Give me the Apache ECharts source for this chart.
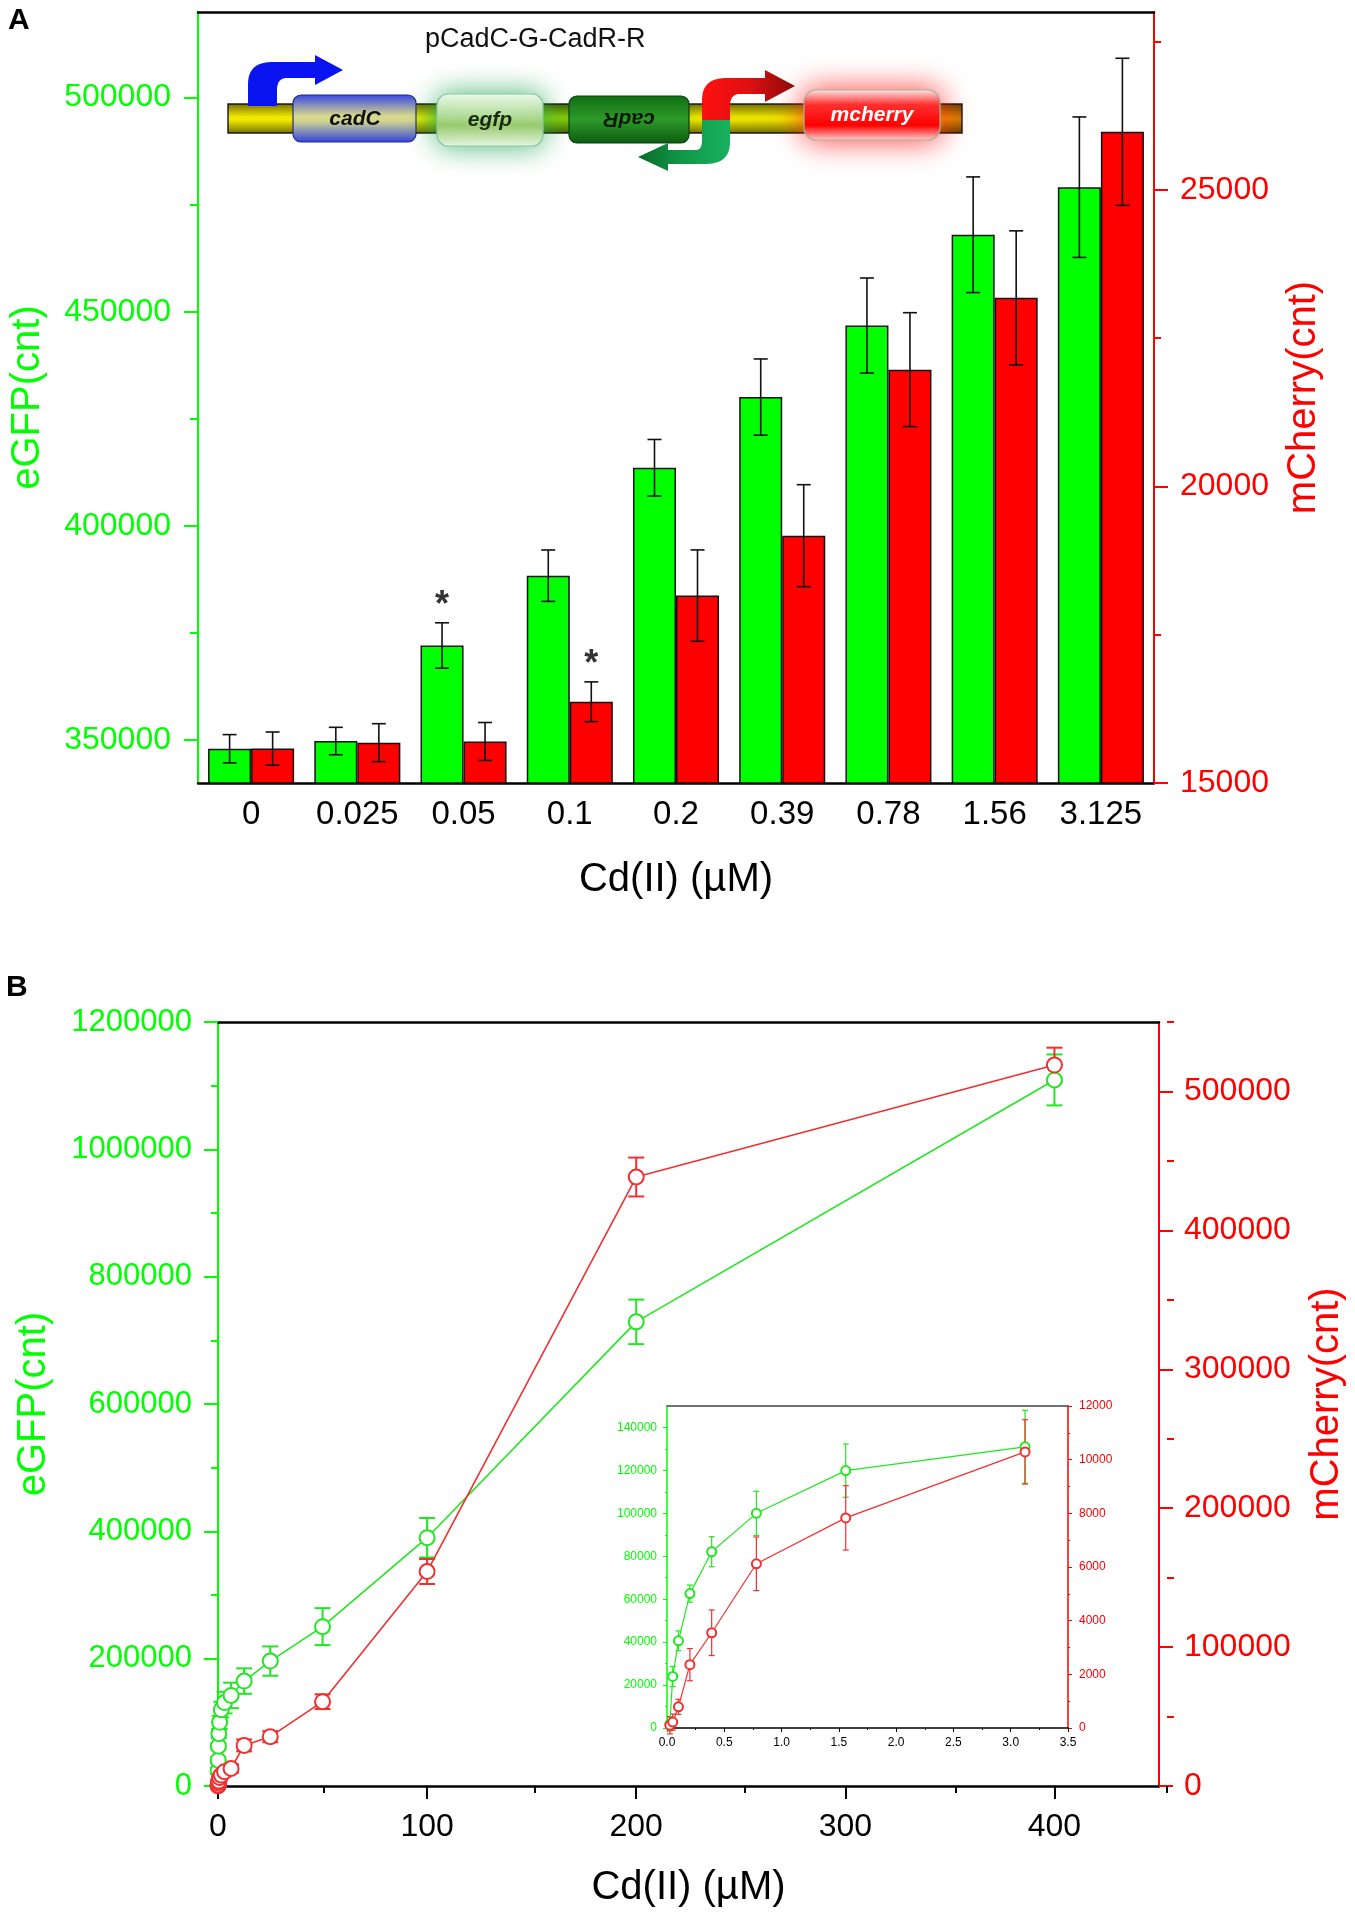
<!DOCTYPE html>
<html><head><meta charset="utf-8">
<script src="https://cdn.jsdelivr.net/npm/echarts@6/dist/echarts.min.js"></script>
<style>html,body{margin:0;padding:0;background:#fff}#c{width:1355px;height:1914px}</style>
</head><body><div id="c"></div>
<script>
// ---------- Panel A data ----------
const catsA = ['0', '0.025', '0.05', '0.1', '0.2', '0.39', '0.78', '1.56', '3.125'];
const egfpA = [348000, 349800, 372100, 388400, 413600, 430100, 446800, 468000, 479100];
const egfpErrA = [3300, 3200, 5300, 6000, 6600, 8900, 11100, 13500, 16400];
const mchA = [15580, 15680, 15700, 16370, 18160, 19170, 21970, 23180, 25980];
const mchErrA = [280, 320, 320, 335, 770, 860, 960, 1130, 1240];
const starEgfpA = [0, 0, 1, 0, 0, 0, 0, 0, 0];
const starMchA = [0, 0, 0, 1, 0, 0, 0, 0, 0];
const ticksLeftA = [350000, 400000, 450000, 500000];
const minorLeftA = [375000, 425000, 475000];
const ticksRightA = [15000, 20000, 25000];
const minorRightA = [17500, 22500, 27500];

// ---------- Panel B data ----------
const cdB = [0.025, 0.05, 0.1, 0.2, 0.39, 0.78, 1.56, 3.125, 6.25, 12.5, 25, 50, 100, 200, 400];
const egfpB = [1800, 24000, 40600, 62600, 82100, 100000, 119900, 131000, 142300, 164800, 196200, 250300, 390000, 729000, 1109000];
const egfpErrB = [3200, 4700, 4600, 4000, 7000, 10300, 12400, 17000, 20000, 20000, 23000, 29000, 31000, 35000, 40000];
const mchB = [100, 220, 790, 2360, 3550, 6120, 7830, 10290, 12600, 29200, 35500, 60700, 154400, 438400, 519000];
const mchErrB = [320, 300, 280, 600, 850, 1000, 1200, 1200, 3000, 4300, 4000, 5300, 9000, 14000, 12500];
const insetMaxX = 3.125;
const ticksXB = [0, 100, 200, 300, 400];
const minorXB = [50, 150, 250, 350, 450];
const ticksLeftB = [0, 200000, 400000, 600000, 800000, 1000000, 1200000];
const minorLeftB = [100000, 300000, 500000, 700000, 900000, 1100000];
const ticksRightB = [0, 100000, 200000, 300000, 400000, 500000];
const minorRightB = [50000, 150000, 250000, 350000, 450000, 550000];
const ticksXI = [0, 0.5, 1, 1.5, 2, 2.5, 3, 3.5];
const minorXI = [0.25, 0.75, 1.25, 1.75, 2.25, 2.75, 3.25];
const ticksLeftI = [0, 20000, 40000, 60000, 80000, 100000, 120000, 140000];
const minorLeftI = [10000, 30000, 50000, 70000, 90000, 110000, 130000];
const ticksRightI = [0, 2000, 4000, 6000, 8000, 10000, 12000];
const minorRightI = [1000, 3000, 5000, 7000, 9000, 11000];

const FONT = 'Liberation Sans, Arial, Helvetica, sans-serif';
const GREEN = '#00ff00', RED = '#ff0000';
const LGREEN = '#22e622', LRED = '#f03030';

const chart = echarts.init(document.getElementById('c'), null, {renderer: 'canvas'});

function majorAxis(o) {
  return {
    type: 'value', gridIndex: o.grid, position: o.pos, min: o.min, max: o.max,
    splitLine: {show: false},
    axisLine: {show: true, onZero: false, lineStyle: {color: o.color, width: o.lw || 2}},
    axisTick: {show: true, inside: false, length: o.tl, customValues: o.ticks, lineStyle: {color: o.color, width: o.tw || 2}},
    axisLabel: {show: true, customValues: o.ticks, color: o.tcolor || o.color, fontSize: o.fs, fontFamily: FONT, margin: o.margin,
      formatter: o.fmt || (v => String(v))},
    name: o.name || '', nameLocation: 'middle', nameGap: o.gap || 0,
    nameTextStyle: {color: o.color, fontSize: o.nfs || 40, fontFamily: FONT}
  };
}
function minorAxis(o) {
  return {
    type: 'value', gridIndex: o.grid, position: o.pos, min: o.min, max: o.max,
    splitLine: {show: false}, axisLine: {show: false, onZero: false},
    axisTick: {show: true, inside: false, length: o.tl, customValues: o.ticks, lineStyle: {color: o.color, width: o.tw || 2}},
    axisLabel: {show: false}
  };
}
function borderAxis(grid, pos, color, lw) {
  return {type: 'value', gridIndex: grid, position: pos, min: 0, max: 1, splitLine: {show: false},
    axisLine: {show: true, onZero: false, lineStyle: {color: color, width: lw}}, axisTick: {show: false}, axisLabel: {show: false}};
}

function errBarA(side) {
  return function (params, api) {
    const i = api.value(0), v = api.value(1), e = api.value(2), st = api.value(3);
    const band = api.size([1, 0])[0];
    const bw = band * 0.81 / 2;
    const x = api.coord([i, v])[0] + side * bw / 2;
    const top = api.coord([i, v + e])[1], bot = api.coord([i, v - e])[1];
    const cap = 7;
    const ls = {stroke: '#111', lineWidth: 1.6};
    const ch = [
      {type: 'line', shape: {x1: x, y1: top, x2: x, y2: bot}, style: ls},
      {type: 'line', shape: {x1: x - cap, y1: top, x2: x + cap, y2: top}, style: ls},
      {type: 'line', shape: {x1: x - cap, y1: bot, x2: x + cap, y2: bot}, style: ls}
    ];
    if (st) ch.push({type: 'text', x: x, y: top - 17, style: {text: '*', fontSize: 36, fontWeight: 'bold', fontFamily: FONT, fill: '#333', align: 'center', verticalAlign: 'middle'}});
    return {type: 'group', children: ch};
  };
}
function errBarXY(color, cap, lw) {
  return function (params, api) {
    const x = api.value(0), v = api.value(1), e = api.value(2);
    const c = api.coord([x, v]);
    const top = api.coord([x, v + e])[1], bot = api.coord([x, v - e])[1];
    const ls = {stroke: color, lineWidth: lw};
    return {type: 'group', children: [
      {type: 'line', shape: {x1: c[0], y1: top, x2: c[0], y2: bot}, style: ls},
      {type: 'line', shape: {x1: c[0] - cap, y1: top, x2: c[0] + cap, y2: top}, style: ls},
      {type: 'line', shape: {x1: c[0] - cap, y1: bot, x2: c[0] + cap, y2: bot}, style: ls}
    ]};
  };
}

const idxInset = cdB.map((x, i) => i).filter(i => cdB[i] <= insetMaxX);

const LG = echarts.graphic.LinearGradient;

// decorative arrow outlines (quadratic curve corners)
function quad(p0, c, p1) {
  const pts = [];
  for (let k = 1; k <= 10; k++) {
    const t = k / 10, u = 1 - t;
    pts.push([u * u * p0[0] + 2 * u * t * c[0] + t * t * p1[0], u * u * p0[1] + 2 * u * t * c[1] + t * t * p1[1]]);
  }
  return pts;
}
const blueArrow = [[248, 106], [248, 84]].concat(quad([248, 84], [248, 62], [272, 62]),
  [[315, 62], [315, 55], [343, 70], [315, 85], [315, 78], [287, 78]], quad([287, 78], [277, 78], [277, 90]), [[277, 106]]);
const redArrow = [[702, 122], [702, 100]].concat(quad([702, 100], [702, 78], [726, 78]),
  [[765, 78], [765, 70], [795, 86], [765, 102], [765, 94], [740, 94]], quad([740, 94], [730, 94], [730, 106]), [[730, 122]]);
const greenArrow = [[730, 120], [730, 142]].concat(quad([730, 142], [730, 164], [706, 164]),
  [[668, 164], [668, 171], [638, 157], [668, 143], [668, 150], [696, 150]], quad([696, 150], [702, 150], [702, 140]), [[702, 120]]);

const graphic = [
  {type: 'text', x: 8, y: 21, style: {text: 'A', fontSize: 30, fontWeight: 'bold', fontFamily: FONT, fill: '#000', verticalAlign: 'middle'}},
  {type: 'text', x: 6, y: 988, style: {text: 'B', fontSize: 30, fontWeight: 'bold', fontFamily: FONT, fill: '#000', verticalAlign: 'middle'}},
  {type: 'text', x: 425, y: 40, style: {text: 'pCadC-G-CadR-R', fontSize: 27, fontFamily: FONT, fill: '#111', verticalAlign: 'middle'}},
  // backbone
  {type: 'rect', z: 10, shape: {x: 228, y: 104, width: 734, height: 29}, style: {
    fill: new LG(0, 0, 1, 0, [{offset: 0, color: '#f2ea00'}, {offset: 0.25, color: '#f2ea00'}, {offset: 0.3, color: '#8fcf10'},
      {offset: 0.55, color: '#7cc400'}, {offset: 0.64, color: '#e8e400'}, {offset: 0.96, color: '#f0d800'}, {offset: 0.975, color: '#e09000'}, {offset: 1, color: '#c87800'}]),
    stroke: '#222', lineWidth: 1.5}},
  {type: 'rect', z: 11, shape: {x: 228, y: 104, width: 734, height: 29}, style: {
    fill: new LG(0, 0, 0, 1, [{offset: 0, color: 'rgba(0,0,0,0.5)'}, {offset: 0.45, color: 'rgba(0,0,0,0)'}, {offset: 0.55, color: 'rgba(0,0,0,0)'}, {offset: 1, color: 'rgba(0,0,0,0.5)'}])}},
  // blue promoter arrow
  {type: 'polygon', z: 12, shape: {points: blueArrow}, style: {fill: '#0a14f0'}},
  // cadC
  {type: 'rect', z: 12, shape: {x: 293, y: 95, width: 123, height: 47, r: 8}, style: {
    fill: new LG(0, 0, 0, 1, [{offset: 0, color: '#3346e6'}, {offset: 0.45, color: '#d9d98a'}, {offset: 0.55, color: '#d2d690'}, {offset: 1, color: '#3040e0'}]),
    stroke: '#1f2a8a', lineWidth: 1.2}},
  {type: 'text', z: 13, x: 355, y: 119, style: {text: 'cadC', fontSize: 21, fontStyle: 'italic', fontWeight: 'bold', fontFamily: FONT, fill: '#111', align: 'center', verticalAlign: 'middle'}},
  // egfp
  {type: 'rect', z: 12, shape: {x: 437, y: 94, width: 106, height: 52, r: 11}, style: {
    fill: new LG(0, 0, 0, 1, [{offset: 0, color: '#f4fbf0'}, {offset: 0.4, color: '#b8e0a0'}, {offset: 0.6, color: '#9ccc70'}, {offset: 1, color: '#eef8ea'}]),
    stroke: '#8cc8a0', lineWidth: 1.2, shadowBlur: 28, shadowColor: 'rgba(40,170,90,0.85)'}},
  {type: 'text', z: 13, x: 490, y: 120, style: {text: 'egfp', fontSize: 21, fontStyle: 'italic', fontWeight: 'bold', fontFamily: FONT, fill: '#1a2a10', align: 'center', verticalAlign: 'middle'}},
  // cadR
  {type: 'rect', z: 12, shape: {x: 569, y: 96, width: 120, height: 47, r: 8}, style: {
    fill: new LG(0, 0, 0, 1, [{offset: 0, color: '#0e6e12'}, {offset: 0.5, color: '#2e9a2a'}, {offset: 1, color: '#0a5a0e'}]),
    stroke: '#0a4010', lineWidth: 1.2}},
  {type: 'text', z: 13, x: 629, y: 119, rotation: Math.PI, style: {text: 'cadR', fontSize: 21, fontStyle: 'italic', fontWeight: 'bold', fontFamily: FONT, fill: '#0a1a0a', align: 'center', verticalAlign: 'middle'}},
  // red (up, right) and green (down, left) arrows
  {type: 'polygon', z: 12, shape: {points: redArrow}, style: {
    fill: new LG(0, 0, 1, 0, [{offset: 0, color: '#ff1010'}, {offset: 0.5, color: '#e01010'}, {offset: 1, color: '#8a0a0a'}])}},
  {type: 'polygon', z: 12, shape: {points: greenArrow}, style: {
    fill: new LG(1, 0, 0, 0, [{offset: 0, color: '#18b060'}, {offset: 0.5, color: '#109a48'}, {offset: 1, color: '#0a6a2a'}])}},
  // mcherry
  {type: 'rect', z: 12, shape: {x: 804, y: 90, width: 136, height: 50, r: 12}, style: {
    fill: new LG(0, 0, 0, 1, [{offset: 0, color: '#fff0f0'}, {offset: 0.3, color: '#ff3030'}, {offset: 0.7, color: '#ff0000'}, {offset: 1, color: '#ffd8d8'}]),
    stroke: '#9ab89a', lineWidth: 1.2, shadowBlur: 30, shadowColor: 'rgba(255,30,30,0.85)'}},
  {type: 'text', z: 13, x: 872, y: 115, style: {text: 'mcherry', fontSize: 21, fontStyle: 'italic', fontWeight: 'bold', fontFamily: FONT, fill: '#ffffff', align: 'center', verticalAlign: 'middle'}}
];

const gridA = {left: 197, top: 12, width: 957, height: 771, containLabel: false};
const gridB = {left: 218, top: 1022, width: 949, height: 764, containLabel: false};
const gridI = {left: 667, top: 1406, width: 401, height: 322, containLabel: false};

const option = {
  animation: false,
  backgroundColor: '#ffffff',
  textStyle: {fontFamily: FONT},
  graphic: graphic,
  // grids 3-5 repeat 0-2 and only carry the minor tick axes
  grid: [gridA, gridB, gridI, gridA, gridB, gridI],
  xAxis: [
    { // 0: A categories
      type: 'category', gridIndex: 0, data: catsA, position: 'bottom',
      axisLine: {show: true, lineStyle: {color: '#000', width: 2.5}}, axisTick: {show: false},
      axisLabel: {color: '#000', fontSize: 33, fontFamily: FONT, margin: 15, interval: 0},
      name: 'Cd(II) (µM)', nameLocation: 'middle', nameGap: 77, nameTextStyle: {color: '#000', fontSize: 40, fontFamily: FONT},
      splitLine: {show: false}
    },
    borderAxis(0, 'top', '#000', 2.5), // 1
    majorAxis({grid: 1, pos: 'bottom', min: 0, max: 450, color: '#000', lw: 2.5, tl: 13, ticks: ticksXB, fs: 32, margin: 25,
      name: 'Cd(II) (µM)', gap: 82, nfs: 40}), // 2
    borderAxis(1, 'top', '#000', 2.5), // 3
    majorAxis({grid: 2, pos: 'bottom', min: 0, max: 3.5, color: '#000', lw: 1.5, tw: 1, tl: 4, ticks: ticksXI, fs: 12, margin: 9, fmt: v => v.toFixed(1)}), // 4
    borderAxis(2, 'top', '#444', 1.5), // 5
    {type: 'value', gridIndex: 3, show: false}, // 6
    minorAxis({grid: 4, pos: 'bottom', min: 0, max: 450, color: '#000', tl: 7, ticks: minorXB}), // 7
    minorAxis({grid: 5, pos: 'bottom', min: 0, max: 3.5, color: '#000', tw: 1, tl: 2, ticks: minorXI}) // 8
  ],
  yAxis: [
    majorAxis({grid: 0, pos: 'left', min: 340000, max: 520000, color: GREEN, tl: 14, ticks: ticksLeftA, fs: 32, margin: 27, name: 'eGFP(cnt)', gap: 150}), // 0
    majorAxis({grid: 0, pos: 'right', min: 15000, max: 28000, color: RED, tl: 14, ticks: ticksRightA, fs: 32, margin: 26, name: 'mCherry(cnt)', gap: 130}), // 1
    majorAxis({grid: 1, pos: 'left', min: 0, max: 1200000, color: GREEN, tl: 14, ticks: ticksLeftB, fs: 31, margin: 26, name: 'eGFP(cnt)', gap: 164}), // 2
    majorAxis({grid: 1, pos: 'right', min: 0, max: 550000, color: RED, tl: 14, ticks: ticksRightB, fs: 32, margin: 25, name: 'mCherry(cnt)', gap: 148}), // 3
    majorAxis({grid: 2, pos: 'left', min: 0, max: 150000, color: GREEN, lw: 1.5, tw: 1, tl: 4, ticks: ticksLeftI, fs: 12, margin: 10}), // 4
    majorAxis({grid: 2, pos: 'right', min: 0, max: 12000, color: RED, lw: 1.5, tw: 1, tl: 4, ticks: ticksRightI, fs: 12, margin: 11}), // 5
    minorAxis({grid: 3, pos: 'left', min: 340000, max: 520000, color: GREEN, tl: 7, ticks: minorLeftA}), // 6
    minorAxis({grid: 3, pos: 'right', min: 15000, max: 28000, color: RED, tl: 7, ticks: minorRightA}), // 7
    minorAxis({grid: 4, pos: 'left', min: 0, max: 1200000, color: GREEN, tl: 7, ticks: minorLeftB}), // 8
    minorAxis({grid: 4, pos: 'right', min: 0, max: 550000, color: RED, tl: 7, ticks: minorRightB}), // 9
    minorAxis({grid: 5, pos: 'left', min: 0, max: 150000, color: GREEN, tw: 1, tl: 2, ticks: minorLeftI}), // 10
    minorAxis({grid: 5, pos: 'right', min: 0, max: 12000, color: RED, tw: 1, tl: 2, ticks: minorRightI}) // 11
  ],
  series: [
    // ----- Panel A bars -----
    {type: 'bar', name: 'eGFP', xAxisIndex: 0, yAxisIndex: 0, data: egfpA, barGap: '0%', barCategoryGap: '19%',
      itemStyle: {color: GREEN, borderColor: '#111', borderWidth: 1.5}},
    {type: 'bar', name: 'mCherry', xAxisIndex: 0, yAxisIndex: 1, data: mchA, barGap: '0%', barCategoryGap: '19%',
      itemStyle: {color: RED, borderColor: '#111', borderWidth: 1.5}},
    {type: 'custom', xAxisIndex: 0, yAxisIndex: 0, z: 5, renderItem: errBarA(-1),
      data: egfpA.map((v, i) => [i, v, egfpErrA[i], starEgfpA[i]])},
    {type: 'custom', xAxisIndex: 0, yAxisIndex: 1, z: 5, renderItem: errBarA(1),
      data: mchA.map((v, i) => [i, v, mchErrA[i], starMchA[i]])},
    // ----- Panel B main -----
    {type: 'line', xAxisIndex: 2, yAxisIndex: 2, data: cdB.map((x, i) => [x, egfpB[i]]), symbol: 'emptyCircle', symbolSize: 15,
      lineStyle: {color: LGREEN, width: 1.6}, itemStyle: {color: LGREEN, borderColor: LGREEN, borderWidth: 1.6}, z: 4},
    {type: 'line', xAxisIndex: 2, yAxisIndex: 3, data: cdB.map((x, i) => [x, mchB[i]]), symbol: 'emptyCircle', symbolSize: 15,
      lineStyle: {color: LRED, width: 1.6}, itemStyle: {color: LRED, borderColor: LRED, borderWidth: 1.6}, z: 4},
    {type: 'custom', xAxisIndex: 2, yAxisIndex: 2, renderItem: errBarXY(LGREEN, 8, 2), z: 3,
      data: cdB.map((x, i) => [x, egfpB[i], egfpErrB[i]])},
    {type: 'custom', xAxisIndex: 2, yAxisIndex: 3, renderItem: errBarXY(LRED, 8, 2), z: 3,
      data: cdB.map((x, i) => [x, mchB[i], mchErrB[i]])},
    // ----- Panel B inset -----
    {type: 'line', xAxisIndex: 4, yAxisIndex: 4, data: idxInset.map(i => [cdB[i], egfpB[i]]), symbol: 'emptyCircle', symbolSize: 9,
      lineStyle: {color: LGREEN, width: 1.2}, itemStyle: {color: LGREEN, borderColor: LGREEN, borderWidth: 1.2}, z: 4},
    {type: 'line', xAxisIndex: 4, yAxisIndex: 5, data: idxInset.map(i => [cdB[i], mchB[i]]), symbol: 'emptyCircle', symbolSize: 9,
      lineStyle: {color: LRED, width: 1.2}, itemStyle: {color: LRED, borderColor: LRED, borderWidth: 1.2}, z: 4},
    {type: 'custom', xAxisIndex: 4, yAxisIndex: 4, renderItem: errBarXY(LGREEN, 3, 1.2), z: 3,
      data: idxInset.map(i => [cdB[i], egfpB[i], egfpErrB[i]])},
    {type: 'custom', xAxisIndex: 4, yAxisIndex: 5, renderItem: errBarXY(LRED, 3, 1.2), z: 3,
      data: idxInset.map(i => [cdB[i], mchB[i], mchErrB[i]])}
  ]
};
chart.setOption(option);
</script>
</body></html>
